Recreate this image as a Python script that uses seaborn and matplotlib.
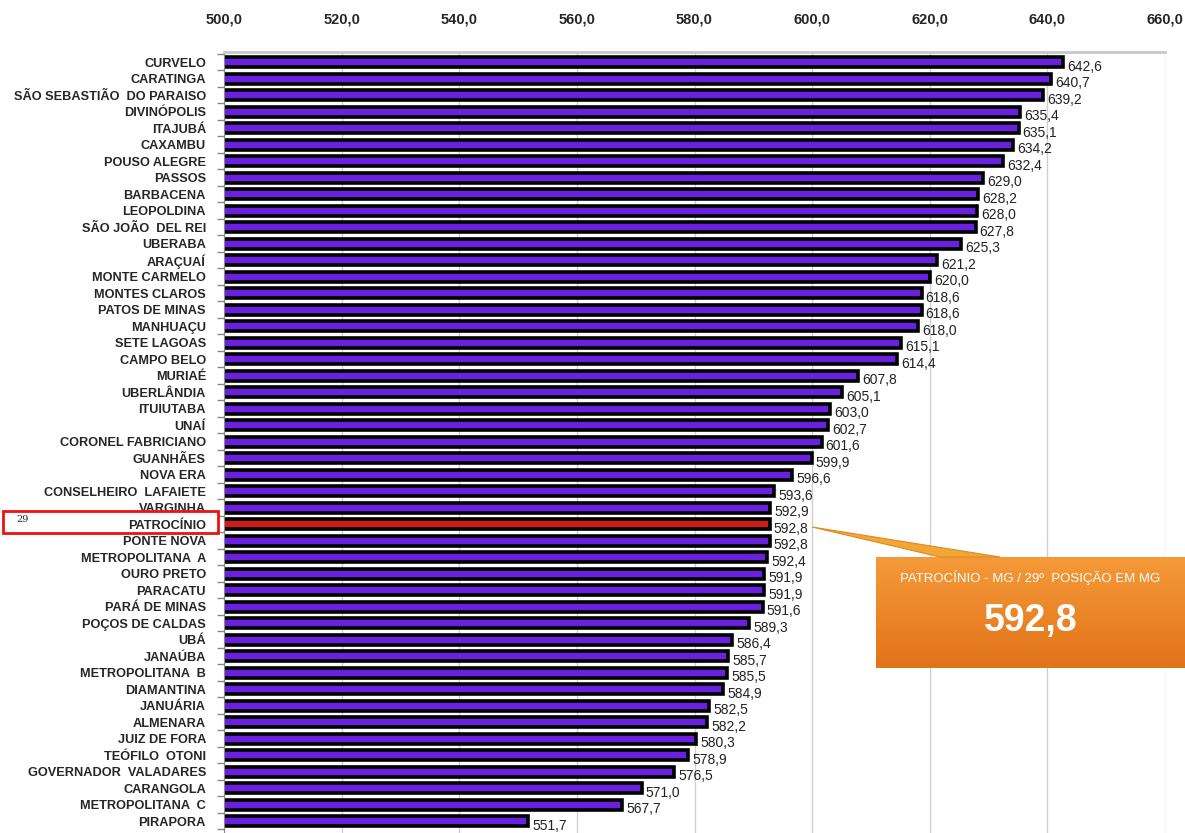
import matplotlib
matplotlib.use("Agg")
import matplotlib.pyplot as plt
import numpy as np
import pandas as pd
import seaborn as sns
from matplotlib.patches import Rectangle, Polygon

sns.set_style("white")
plt.rcParams['font.family'] = ['Liberation Sans', 'DejaVu Sans']

cities = ['CURVELO', 'CARATINGA', 'SÃO SEBASTIÃO  DO PARAISO', 'DIVINÓPOLIS', 'ITAJUBÁ',
          'CAXAMBU', 'POUSO ALEGRE', 'PASSOS', 'BARBACENA', 'LEOPOLDINA',
          'SÃO JOÃO  DEL REI', 'UBERABA', 'ARAÇUAÍ', 'MONTE CARMELO', 'MONTES CLAROS',
          'PATOS DE MINAS', 'MANHUAÇU', 'SETE LAGOAS', 'CAMPO BELO', 'MURIAÉ',
          'UBERLÂNDIA', 'ITUIUTABA', 'UNAÍ', 'CORONEL FABRICIANO', 'GUANHÃES',
          'NOVA ERA', 'CONSELHEIRO  LAFAIETE', 'VARGINHA', 'PATROCÍNIO', 'PONTE NOVA',
          'METROPOLITANA  A', 'OURO PRETO', 'PARACATU', 'PARÁ DE MINAS', 'POÇOS DE CALDAS',
          'UBÁ', 'JANAÚBA', 'METROPOLITANA  B', 'DIAMANTINA', 'JANUÁRIA',
          'ALMENARA', 'JUIZ DE FORA', 'TEÓFILO  OTONI', 'GOVERNADOR  VALADARES', 'CARANGOLA',
          'METROPOLITANA  C', 'PIRAPORA']
scores = [642.6, 640.7, 639.2, 635.4, 635.1, 634.2, 632.4, 629.0, 628.2, 628.0,
          627.8, 625.3, 621.2, 620.0, 618.6, 618.6, 618.0, 615.1, 614.4, 607.8,
          605.1, 603.0, 602.7, 601.6, 599.9, 596.6, 593.6, 592.9, 592.8, 592.8,
          592.4, 591.9, 591.9, 591.6, 589.3, 586.4, 585.7, 585.5, 584.9, 582.5,
          582.2, 580.3, 578.9, 576.5, 571.0, 567.7, 551.7]
highlight = 'PATROCÍNIO'
x_ticks = [500, 520, 540, 560, 580, 600, 620, 640, 660]

df = pd.DataFrame({'city': cities, 'score': scores})
df['grupo'] = np.where(df['city'] == highlight, 'destaque', 'outros')

fig = plt.figure(figsize=(11.85, 8.33), dpi=100)
ax = fig.add_axes([224 / 1185, 0.0, (1165 - 224) / 1185, 1 - 52 / 833])

sns.barplot(data=df, y='city', x='score', hue='grupo', orient='h', dodge=False,
            palette={'outros': '#6200FF', 'destaque': '#E80000'},
            edgecolor='#000000', linewidth=2.6, width=0.6, legend=False, ax=ax)

ax.set_xlim(500, 660)
ax.set_ylim(46.72, -0.62)
ax.xaxis.tick_top()
ax.set_xticks(x_ticks)
ax.set_xticklabels([f'{t:.1f}'.replace('.', ',') for t in x_ticks],
                   fontsize=10.5, fontweight='bold')
ax.tick_params(axis='x', length=0, pad=18)
ax.set_yticks(range(len(cities)))
ax.set_yticklabels(cities, fontsize=9.2, fontweight='bold')
ax.set_yticks(np.arange(-0.5, len(cities), 1), minor=True)
ax.tick_params(axis='y', which='major', length=0, pad=13)
ax.tick_params(axis='y', which='minor', length=5, color='#888888', width=1, left=True)
ax.set_xlabel('')
ax.set_ylabel('')
ax.grid(axis='x', color='#d0d0d0', linewidth=1)
ax.set_axisbelow(True)
for side in ['bottom', 'right']:
    ax.spines[side].set_visible(False)
ax.spines['top'].set_color('#c8c8c8')
ax.spines['top'].set_linewidth(2)
ax.spines['left'].set_color('#888888')

for i, v in enumerate(scores):
    ax.text(v + 0.7, i + 0.28, f'{v:.1f}'.replace('.', ','), fontsize=10,
            va='center', ha='left', color='#222222')

# red frame around the highlighted label
fig.patches.append(Rectangle((3 / 1185, 1 - 533 / 833), 215 / 1185, 22 / 833,
                             transform=fig.transFigure, fill=False,
                             edgecolor='#EE1111', linewidth=2))
fig.text(16 / 1185, 1 - 520 / 833, '29', fontsize=7, va='center',
         family='DejaVu Serif')

# callout pointer and box
fig.patches.append(Polygon([(812 / 1185, 1 - 527 / 833), (940 / 1185, 1 - 557 / 833),
                            (1000 / 1185, 1 - 557 / 833)], closed=True,
                           transform=fig.transFigure, facecolor='#F2A638',
                           edgecolor='#E08A20', linewidth=0.8))
box = fig.add_axes([876 / 1185, 1 - 668 / 833, (1185 - 876) / 1185, 111 / 833])
grad = np.linspace(0, 1, 100).reshape(-1, 1)
box.imshow(grad, aspect='auto', extent=[0, 1, 0, 1],
           cmap=matplotlib.colors.LinearSegmentedColormap.from_list(
               'orng', ['#F59A3A', '#E27418']), origin='upper')
box.set_axis_off()
box.text(0.5, 0.81, 'PATROCÍNIO - MG / 29º  POSIÇÃO EM MG', color='white',
         fontsize=9.5, ha='center', va='center', transform=box.transAxes)
box.text(0.5, 0.42, '592,8', color='white', fontsize=27, fontweight='bold',
         ha='center', va='center', transform=box.transAxes)

fig.savefig('out.png', dpi=100)
